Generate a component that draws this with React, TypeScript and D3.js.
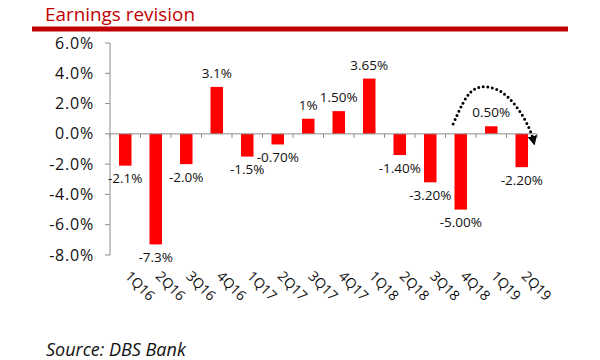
import React from "react";
import * as d3 from "d3";

const categories = ["1Q16","2Q16","3Q16","4Q16","1Q17","2Q17","3Q17","4Q17","1Q18","2Q18","3Q18","4Q18","1Q19","2Q19"];
const values = [-2.1, -7.3, -2.0, 3.1, -1.5, -0.7, 1.0, 1.5, 3.65, -1.4, -3.2, -5.0, 0.5, -2.2];
const valueLabels = ["-2.1%","-7.3%","-2.0%","3.1%","-1.5%","-0.70%","1%","1.50%","3.65%","-1.40%","-3.20%","-5.00%","0.50%","-2.20%"];
const yTicks = [6, 4, 2, 0, -2, -4, -6, -8];
const title = "Earnings revision";
const source = "Source: DBS Bank";

const W = 600, H = 360;
const FONT = "'Open Sans', 'Noto Sans', sans-serif";

export default function App() {
  const x = d3.scaleBand<string>().domain(categories).range([110, 537]).padding(0);
  const y = d3.scaleLinear().domain([-8, 6]).range([255, 43]);
  const bw = x.bandwidth();
  const barW = bw * 0.41;
  const gridColor = "#8c8c8c";

  const boundaries = d3.range(categories.length + 1).map(i => 110 + i * x.step());

  // annotation arrow anchored on scales
  const sx = (x("4Q18") as number) + bw * 0.25;
  const sy = y(0.65);
  const px = (x("1Q19") as number) + bw * 0.6;
  const py = y(3.0);
  const ex = (x("2Q19") as number) + bw * 0.95;
  const ey = y(-1.05);
  const arrowPath = `M${sx},${sy} C${sx + 14},${py + 4} ${px - 22},${py - 6} ${px},${py} C${px + 18},${py + 6} ${ex - 6},${ey - 26} ${ex - 2},${ey - 9}`;

  return (
    <svg width={W} height={H} style={{ position: "fixed", left: 0, top: 0, background: "#fff" }} fontFamily={FONT}>
      <defs>
        <marker id="ah" viewBox="0 0 10 10" refX="5" refY="5" markerWidth="3.2" markerHeight="3.2" orient="auto" markerUnits="strokeWidth">
          <path d="M0,0 L10,5 L0,10 z" fill="#000" />
        </marker>
      </defs>
      <rect x={0} y={0} width={W} height={H} fill="#fff" />
      <text x={45} y={21} fontSize={19} fill="#c00000" textLength={150} lengthAdjust="spacingAndGlyphs">{title}</text>
      <rect x={32} y={26.5} width={536} height={5} fill="#c00000" />

      {/* y axis */}
      <line x1={110} x2={110} y1={y(6)} y2={y(-8)} stroke={gridColor} strokeWidth={1} />
      {yTicks.map(t => (
        <g key={t}>
          <line x1={105} x2={110} y1={y(t)} y2={y(t)} stroke={gridColor} strokeWidth={1} />
          <text x={94} y={y(t) + 5.5} fontSize={16} letterSpacing={0.8} textAnchor="end" fill="#111">{t.toFixed(1) + "%"}</text>
        </g>
      ))}

      {/* bars */}
      {values.map((v, i) => {
        const cx = (x(categories[i]) as number) + bw / 2;
        const y0 = y(0), y1 = y(v);
        return (
          <rect key={categories[i]} x={cx - barW / 2} y={Math.min(y0, y1)} width={barW} height={Math.abs(y1 - y0)} fill="#ff0000" />
        );
      })}

      {/* zero axis */}
      <line x1={110} x2={537} y1={y(0)} y2={y(0)} stroke={gridColor} strokeWidth={1} />
      {boundaries.map((b, i) => (
        <line key={i} x1={b} x2={b} y1={y(0)} y2={y(0) + 4} stroke={gridColor} strokeWidth={1} />
      ))}

      {/* data labels */}
      {values.map((v, i) => {
        const cx = (x(categories[i]) as number) + bw / 2;
        const ly = v < 0 ? y(v) + 17.5 : y(v) - 9;
        return (
          <text key={"l" + i} x={cx} y={ly} fontSize={13.5} textAnchor="middle" fill="#111">{valueLabels[i]}</text>
        );
      })}

      {/* category labels */}
      {categories.map(c => {
        const cx = (x(c) as number) + bw / 2;
        return (
          <text key={"c" + c} transform={`translate(${cx - 1},277) rotate(45)`} fontSize={14} fill="#111">{c}</text>
        );
      })}

      {/* annotation arrow */}
      <path d={arrowPath} fill="none" stroke="#000" strokeWidth={3} strokeDasharray="0 4.6" strokeLinecap="round" markerEnd="url(#ah)" />

      <text x={46} y={356} fontSize={18} fontStyle="italic" fill="#111">{source}</text>
    </svg>
  );
}
